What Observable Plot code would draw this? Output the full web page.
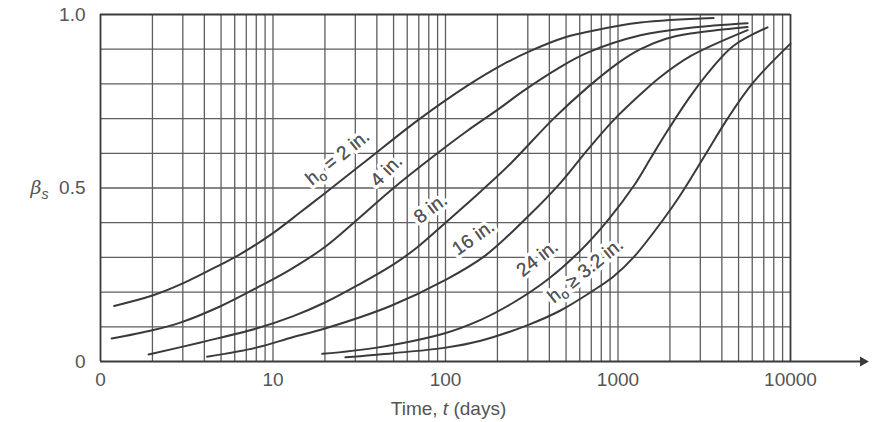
<!DOCTYPE html>
<html>
<head>
<meta charset="utf-8">
<script src="https://cdn.jsdelivr.net/npm/d3@7"></script>
<script src="https://cdn.jsdelivr.net/npm/@observablehq/plot@0.6"></script>
<style>
  html, body { margin: 0; padding: 0; background: #fff; }
  svg text { font-family: "Liberation Sans", Arial, Helvetica, sans-serif; }
</style>
</head>
<body>
<div id="chart"></div>
<script>
// ---- tick labels ----
const xTicks = [1, 10, 100, 1000, 10000];
const xTickLabels = ["0", "10", "100", "1000", "10000"];
const yTicks = [0, 0.5, 1];
const yTickLabels = ["0", "0.5", "1.0"];
const xTitle = "Time, t (days)";
const yTitle = "βs";

// ---- grid (log minor lines per decade, tenths in y) ----
const decades = [1, 10, 100, 1000];
const minorSteps = [2, 3, 4, 5, 6, 7, 8, 9, 10];
const gridY = [0.1, 0.2, 0.3, 0.4, 0.5, 0.6, 0.7, 0.8, 0.9];
const axisEndDays = 27000;   // where the x-axis arrow ends (beyond 10000)

// ---- curve series: time t (days) and beta_s ----
const days_2in  = [1.2, 2, 3, 5, 6.5, 10, 14.4, 20, 35, 69, 134, 208, 311, 500, 693, 1350, 3580];
const beta_2in  = [0.16, 0.19, 0.225, 0.28, 0.31, 0.37, 0.43, 0.485, 0.58, 0.695, 0.795, 0.852, 0.895, 0.935, 0.952, 0.977, 0.99];

const days_4in  = [1.16, 2, 2.9, 5, 8.1, 12.6, 20, 31, 50, 87, 134, 200, 283, 450, 666, 1350, 2630, 5640];
const beta_4in  = [0.066, 0.09, 0.112, 0.16, 0.213, 0.265, 0.33, 0.41, 0.50, 0.595, 0.665, 0.725, 0.78, 0.845, 0.89, 0.94, 0.962, 0.975];

const days_8in  = [1.9, 3.8, 8, 13, 20, 31, 50, 69, 100, 160, 238, 423, 666, 1000, 1350, 1900, 2630, 5640];
const beta_8in  = [0.02, 0.055, 0.095, 0.13, 0.17, 0.22, 0.28, 0.33, 0.40, 0.49, 0.57, 0.70, 0.79, 0.86, 0.90, 0.93, 0.945, 0.964];

const days_16in = [4.15, 8, 13, 20, 48, 100, 170, 311, 464, 666, 940, 1350, 1760, 2630, 5640];
const beta_16in = [0.014, 0.04, 0.07, 0.095, 0.16, 0.235, 0.305, 0.425, 0.515, 0.61, 0.695, 0.77, 0.82, 0.88, 0.955];

const days_24in = [19.3, 40, 97, 160, 248, 400, 607, 870, 1250, 1543, 1936, 2630, 3500, 4680, 7360];
const beta_24in = [0.022, 0.04, 0.08, 0.12, 0.17, 0.24, 0.32, 0.406, 0.51, 0.585, 0.665, 0.765, 0.845, 0.91, 0.963];

const days_32in = [26.3, 50, 100, 160, 300, 464, 721, 942, 1230, 1835, 2300, 3200, 4315, 6100, 10000];
const beta_32in = [0.012, 0.024, 0.04, 0.06, 0.105, 0.147, 0.205, 0.245, 0.30, 0.41, 0.48, 0.595, 0.70, 0.805, 0.916];

// ---- curve labels ----
const curveLabels = ["h_o = 2 in.", "4 in.", "8 in.", "16 in.", "24 in.", "h_o ≥ 3.2 in."];
const labelDays   = [23.7, 45.5, 82, 145, 341, 648];
const labelBeta   = [0.588, 0.55, 0.441, 0.357, 0.297, 0.262];
const labelAngle  = [-39, -45, -37, -35, -38, -39];

// ---- build tables ----
const seriesList = [
  ["2", days_2in, beta_2in], ["4", days_4in, beta_4in], ["8", days_8in, beta_8in],
  ["16", days_16in, beta_16in], ["24", days_24in, beta_24in], ["32", days_32in, beta_32in]
];
const curveRows = seriesList.flatMap(([s, ds, bs]) => ds.map((d, i) => ({s, t: d, b: bs[i]})));
const gridX = decades.flatMap(d => minorSteps.map(k => k * d)).filter(v => v < 10000);
const labelRows = curveLabels.map((l, i) => ({label: l, t: labelDays[i], b: labelBeta[i], a: labelAngle[i]}));

const ink = "#3a3a3a";
const gridInk = "#5e5e5e";
const textInk = "#555";

const chart = Plot.plot({
  width: 875,
  height: 422,
  marginLeft: 100,
  marginRight: 85,
  marginTop: 14,
  marginBottom: 61,
  style: {fontFamily: "Liberation Sans, Arial, sans-serif", fontSize: "19px", color: textInk, background: "#fff"},
  x: {type: "log", domain: [1, 10000], ticks: xTicks, tickFormat: d => xTickLabels[xTicks.indexOf(d)], tickSize: 0, tickPadding: 11, label: null},
  y: {domain: [0, 1], ticks: yTicks, tickFormat: d => yTickLabels[yTicks.indexOf(d)], tickSize: 0, tickPadding: 15, label: null},
  marks: [
    Plot.ruleX(gridX, {stroke: gridInk, strokeWidth: 1.3}),
    Plot.ruleY(gridY, {stroke: gridInk, strokeWidth: 1.3}),
    Plot.ruleX([1, 10000], {stroke: ink, strokeWidth: 1.8}),
    Plot.ruleY([1], {stroke: ink, strokeWidth: 2.2}),
    Plot.ruleY([{y: 0, x1: 1, x2: axisEndDays}], {y: "y", x1: "x1", x2: "x2", stroke: ink, strokeWidth: 1.8}),
    Plot.dot([{x: axisEndDays, y: 0}], {x: "x", y: "y", symbol: "triangle2", rotate: 90, r: 3.6, fill: ink, stroke: ink, dx: -2}),
    Plot.text(labelRows, {x: "t", y: "b", text: "label", rotate: "a", fill: textInk, stroke: "white", strokeWidth: 7, paintOrder: "stroke", fontSize: 19}),
    Plot.line(curveRows, {x: "t", y: "b", z: "s", curve: "catmull-rom", stroke: ink, strokeWidth: 2}),
    Plot.text(labelRows, {x: "t", y: "b", text: "label", rotate: "a", fill: textInk, fontSize: 19}),
    Plot.text([xTitle], {frameAnchor: "bottom", dx: 3, dy: 47, lineAnchor: "middle", fill: textInk, fontSize: 19}),
    Plot.text([yTitle], {frameAnchor: "left", dx: -70, lineAnchor: "middle", fill: textInk, fontSize: 19})
  ]
});

document.getElementById("chart").appendChild(chart);

// ---- rich text: italics and subscripts ----
const svg = d3.select(chart.tagName === "svg" ? chart : chart.querySelector("svg"));
svg.selectAll("text").each(function () {
  const el = d3.select(this);
  const txt = this.textContent;
  if (txt === xTitle) {
    el.text(null);
    el.append("tspan").text("Time, ");
    el.append("tspan").attr("font-style", "italic").text("t");
    el.append("tspan").text(" (days)");
  } else if (txt === yTitle) {
    el.text(null);
    el.append("tspan").attr("font-style", "italic").attr("font-family", "DejaVu Serif, serif").text("β");
    el.append("tspan").attr("font-style", "italic").attr("font-size", "0.75em").attr("dy", "0.35em").text("s");
  } else if (txt.startsWith("h_o")) {
    el.text(null);
    el.append("tspan").text("h");
    el.append("tspan").attr("font-size", "0.7em").attr("dy", "0.3em").text("o");
    el.append("tspan").attr("dy", "-0.21em").text(txt.slice(3));
  }
});
</script>
</body>
</html>
